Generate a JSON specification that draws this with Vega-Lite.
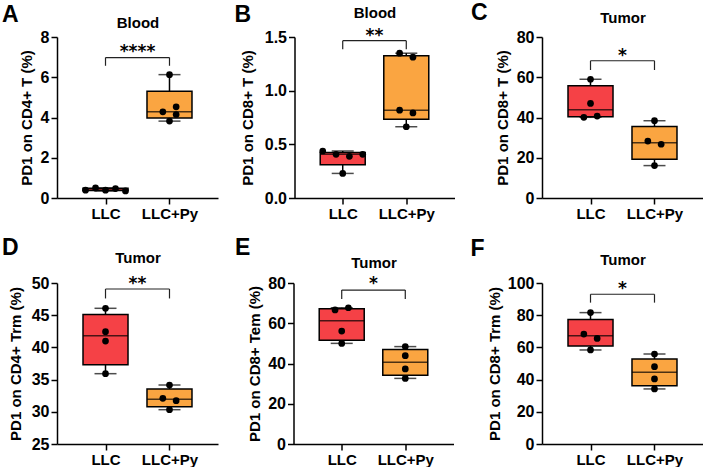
{
  "$schema": "https://vega.github.io/schema/vega-lite/v6.json",
  "padding": {"left": 2, "top": 2, "right": 0, "bottom": 0},
  "background": "white",
  "spacing": 16,
  "config": {
    "font": "Liberation Sans",
    "view": {"stroke": null},
    "axis": {
      "grid": false,
      "domainColor": "black", "domainWidth": 1.5,
      "tickColor": "black", "tickWidth": 1.5, "tickSize": 6,
      "labelColor": "black", "labelFont": "Liberation Sans", "labelFontWeight": "bold", "labelFontSize": 16, "labelPadding": 2, "labelOverlap": false,
      "titleColor": "black", "titleFont": "Liberation Sans", "titleFontWeight": "bold", "titleFontSize": 15
    },
    "title": {"font": "Liberation Sans", "fontWeight": "bold", "fontSize": 23, "color": "black", "anchor": "start", "frame": "bounds", "offset": 0}
  },
  "datasets": {
    "pts": [
      {"p": "A", "group": "LLC", "g": 1, "lane": -6, "v": 0.39},
      {"p": "A", "group": "LLC", "g": 1, "lane": -3, "v": 0.5},
      {"p": "A", "group": "LLC", "g": 1, "lane": 0, "v": 0.39},
      {"p": "A", "group": "LLC", "g": 1, "lane": 3, "v": 0.47},
      {"p": "A", "group": "LLC", "g": 1, "lane": 6, "v": 0.35},
      {"p": "A", "group": "LLC+Py", "g": 2, "lane": 0, "v": 6.13},
      {"p": "A", "group": "LLC+Py", "g": 2, "lane": 2, "v": 4.53},
      {"p": "A", "group": "LLC+Py", "g": 2, "lane": -2, "v": 4.28},
      {"p": "A", "group": "LLC+Py", "g": 2, "lane": 2, "v": 4.15},
      {"p": "A", "group": "LLC+Py", "g": 2, "lane": 0, "v": 3.82},
      {"p": "B", "group": "LLC", "g": 1, "lane": -6, "v": 0.438},
      {"p": "B", "group": "LLC", "g": 1, "lane": -2, "v": 0.407},
      {"p": "B", "group": "LLC", "g": 1, "lane": 2, "v": 0.388},
      {"p": "B", "group": "LLC", "g": 1, "lane": 6, "v": 0.407},
      {"p": "B", "group": "LLC", "g": 1, "lane": 0, "v": 0.229},
      {"p": "B", "group": "LLC+Py", "g": 2, "lane": -2, "v": 1.349},
      {"p": "B", "group": "LLC+Py", "g": 2, "lane": 2, "v": 1.312},
      {"p": "B", "group": "LLC+Py", "g": 2, "lane": -2, "v": 0.818},
      {"p": "B", "group": "LLC+Py", "g": 2, "lane": 2, "v": 0.793},
      {"p": "B", "group": "LLC+Py", "g": 2, "lane": 0, "v": 0.664},
      {"p": "C", "group": "LLC", "g": 1, "lane": 0, "v": 59.0},
      {"p": "C", "group": "LLC", "g": 1, "lane": 0, "v": 47.0},
      {"p": "C", "group": "LLC", "g": 1, "lane": -2, "v": 40.1},
      {"p": "C", "group": "LLC", "g": 1, "lane": 2, "v": 40.7},
      {"p": "C", "group": "LLC+Py", "g": 2, "lane": 0, "v": 38.4},
      {"p": "C", "group": "LLC+Py", "g": 2, "lane": -2, "v": 28.3},
      {"p": "C", "group": "LLC+Py", "g": 2, "lane": 2, "v": 26.7},
      {"p": "C", "group": "LLC+Py", "g": 2, "lane": 0, "v": 16.1},
      {"p": "D", "group": "LLC", "g": 1, "lane": 0, "v": 46.07},
      {"p": "D", "group": "LLC", "g": 1, "lane": 0, "v": 42.44},
      {"p": "D", "group": "LLC", "g": 1, "lane": 0, "v": 40.99},
      {"p": "D", "group": "LLC", "g": 1, "lane": 0, "v": 35.92},
      {"p": "D", "group": "LLC+Py", "g": 2, "lane": 0, "v": 34.16},
      {"p": "D", "group": "LLC+Py", "g": 2, "lane": -2, "v": 32.09},
      {"p": "D", "group": "LLC+Py", "g": 2, "lane": 2, "v": 31.73},
      {"p": "D", "group": "LLC+Py", "g": 2, "lane": 0, "v": 30.33},
      {"p": "E", "group": "LLC", "g": 1, "lane": -2, "v": 66.6},
      {"p": "E", "group": "LLC", "g": 1, "lane": 2, "v": 67.7},
      {"p": "E", "group": "LLC", "g": 1, "lane": 0, "v": 56.1},
      {"p": "E", "group": "LLC", "g": 1, "lane": 0, "v": 50.0},
      {"p": "E", "group": "LLC+Py", "g": 2, "lane": 0, "v": 48.4},
      {"p": "E", "group": "LLC+Py", "g": 2, "lane": 0, "v": 43.9},
      {"p": "E", "group": "LLC+Py", "g": 2, "lane": 0, "v": 37.3},
      {"p": "E", "group": "LLC+Py", "g": 2, "lane": 0, "v": 32.6},
      {"p": "F", "group": "LLC", "g": 1, "lane": 0, "v": 81.6},
      {"p": "F", "group": "LLC", "g": 1, "lane": -2, "v": 68.3},
      {"p": "F", "group": "LLC", "g": 1, "lane": 2, "v": 65.6},
      {"p": "F", "group": "LLC", "g": 1, "lane": 0, "v": 58.4},
      {"p": "F", "group": "LLC+Py", "g": 2, "lane": 0, "v": 55.9},
      {"p": "F", "group": "LLC+Py", "g": 2, "lane": 0, "v": 48.0},
      {"p": "F", "group": "LLC+Py", "g": 2, "lane": 0, "v": 40.4},
      {"p": "F", "group": "LLC+Py", "g": 2, "lane": 0, "v": 34.2}
    ],
    "box": [
      {"p": "A", "group": "LLC", "g": 1, "lo": 0.35, "q1": 0.37, "med": 0.39, "q3": 0.485, "hi": 0.5},
      {"p": "A", "group": "LLC+Py", "g": 2, "lo": 3.82, "q1": 3.98, "med": 4.28, "q3": 5.3, "hi": 6.13},
      {"p": "B", "group": "LLC", "g": 1, "lo": 0.229, "q1": 0.31, "med": 0.407, "q3": 0.423, "hi": 0.438},
      {"p": "B", "group": "LLC+Py", "g": 2, "lo": 0.664, "q1": 0.733, "med": 0.818, "q3": 1.325, "hi": 1.349},
      {"p": "C", "group": "LLC", "g": 1, "lo": 40.1, "q1": 40.4, "med": 43.8, "q3": 55.8, "hi": 59.0},
      {"p": "C", "group": "LLC+Py", "g": 2, "lo": 16.1, "q1": 19.2, "med": 27.5, "q3": 35.5, "hi": 38.4},
      {"p": "D", "group": "LLC", "g": 1, "lo": 35.92, "q1": 37.3, "med": 41.8, "q3": 45.1, "hi": 46.07},
      {"p": "D", "group": "LLC+Py", "g": 2, "lo": 30.33, "q1": 30.8, "med": 31.93, "q3": 33.55, "hi": 34.16},
      {"p": "E", "group": "LLC", "g": 1, "lo": 50.0, "q1": 51.6, "med": 61.3, "q3": 67.2, "hi": 67.7},
      {"p": "E", "group": "LLC+Py", "g": 2, "lo": 32.6, "q1": 34.1, "med": 40.6, "q3": 46.9, "hi": 48.4},
      {"p": "F", "group": "LLC", "g": 1, "lo": 58.4, "q1": 60.9, "med": 67.3, "q3": 77.4, "hi": 81.6},
      {"p": "F", "group": "LLC+Py", "g": 2, "lo": 34.2, "q1": 36.2, "med": 44.5, "q3": 52.8, "hi": 55.9}
    ],
    "brk": [
      {"p": "A", "from": 1, "to": 2, "top": 6.98, "foot": 6.57, "star": 7.57, "label": "****"},
      {"p": "B", "from": 1, "to": 2, "top": 1.466, "foot": 1.386, "star": 1.565, "label": "**"},
      {"p": "C", "from": 1, "to": 2, "top": 68.2, "foot": 63.6, "star": 73.5, "label": "*"},
      {"p": "D", "from": 1, "to": 2, "top": 49.07, "foot": 47.6, "star": 50.7, "label": "**"},
      {"p": "E", "from": 1, "to": 2, "top": 76.5, "foot": 72.0, "star": 82.3, "label": "*"},
      {"p": "F", "from": 1, "to": 2, "top": 93.0, "foot": 87.8, "star": 99.8, "label": "*"}
    ]
  },
  "vconcat": [
    {"hconcat": [
      {
        "title": {"text": "A", "dx": -17, "dy": 16},
        "width": 161, "height": 161,
        "resolve": {"axis": {"x": "independent", "y": "independent"}},
        "layer": [
          {"data": {"name": "box"}, "transform": [{"filter": "datum.p == 'A'"}],
           "mark": {"type": "rule", "strokeWidth": 1.5, "color": "black"},
           "encoding": {
             "x": {"field": "g", "type": "quantitative", "scale": {"domain": [0.32, 2.68], "nice": false},
                   "axis": {"orient": "top", "title": "Blood", "labels": false, "ticks": false, "domain": false, "titlePadding": 7, "minExtent": 0, "maxExtent": 0}},
             "y": {"field": "lo", "type": "quantitative", "scale": {"domain": [0, 8], "nice": false},
                   "axis": {"values": [0, 2, 4, 6, 8], "labelOverlap": false, "title": "PD1 on CD4+ T (%)", "minExtent": 17, "maxExtent": 17, "titlePadding": 6}},
             "y2": {"field": "hi"}}},
          {"data": {"name": "box"}, "transform": [{"filter": "datum.p == 'A'"}],
           "mark": {"type": "tick", "orient": "horizontal", "size": 22, "thickness": 1.5, "color": "black"},
           "encoding": {"x": {"field": "g", "type": "quantitative", "axis": null}, "y": {"field": "lo", "type": "quantitative", "axis": null}}},
          {"data": {"name": "box"}, "transform": [{"filter": "datum.p == 'A'"}],
           "mark": {"type": "tick", "orient": "horizontal", "size": 22, "thickness": 1.5, "color": "black"},
           "encoding": {"x": {"field": "g", "type": "quantitative", "axis": null}, "y": {"field": "hi", "type": "quantitative", "axis": null}}},
          {"data": {"name": "box"}, "transform": [{"filter": "datum.p == 'A'"}],
           "mark": {"type": "bar", "width": 45, "stroke": "black", "strokeWidth": 1.5},
           "encoding": {
             "x": {"field": "g", "type": "quantitative", "axis": {"values": [1, 2], "labelExpr": "datum.value == 1 ? 'LLC' : 'LLC+Py'", "title": null, "labelFontSize": 15}},
             "y": {"field": "q1", "type": "quantitative", "axis": null}, "y2": {"field": "q3"},
             "fill": {"field": "group", "type": "nominal", "scale": {"domain": ["LLC", "LLC+Py"], "range": ["#F54146", "#FAA541"]}, "legend": null}}},
          {"data": {"name": "box"}, "transform": [{"filter": "datum.p == 'A'"}],
           "mark": {"type": "tick", "orient": "horizontal", "size": 45, "thickness": 1.5, "color": "black"},
           "encoding": {"x": {"field": "g", "type": "quantitative", "axis": null}, "y": {"field": "med", "type": "quantitative", "axis": null}}},
          {"data": {"name": "pts"}, "transform": [{"filter": "datum.p == 'A'"}],
           "mark": {"type": "circle", "size": 45, "color": "black", "opacity": 1, "xOffset": {"expr": "datum.lane * 3.33"}},
           "encoding": {"x": {"field": "g", "type": "quantitative", "axis": null}, "y": {"field": "v", "type": "quantitative", "axis": null}}},
          {"data": {"name": "brk"}, "transform": [{"filter": "datum.p == 'A'"}],
           "mark": {"type": "rule", "strokeWidth": 1.2, "color": "#222"},
           "encoding": {"x": {"field": "from", "type": "quantitative", "axis": null}, "x2": {"field": "to"}, "y": {"field": "top", "type": "quantitative", "axis": null}}},
          {"data": {"name": "brk"}, "transform": [{"filter": "datum.p == 'A'"}],
           "mark": {"type": "rule", "strokeWidth": 1.2, "color": "#222"},
           "encoding": {"x": {"field": "from", "type": "quantitative", "axis": null}, "y": {"field": "foot", "type": "quantitative", "axis": null}, "y2": {"field": "top"}}},
          {"data": {"name": "brk"}, "transform": [{"filter": "datum.p == 'A'"}],
           "mark": {"type": "rule", "strokeWidth": 1.2, "color": "#222"},
           "encoding": {"x": {"field": "to", "type": "quantitative", "axis": null}, "y": {"field": "foot", "type": "quantitative", "axis": null}, "y2": {"field": "top"}}},
          {"data": {"name": "brk"}, "transform": [{"filter": "datum.p == 'A'"}, {"calculate": "(datum.from + datum.to) / 2", "as": "mid"}],
           "mark": {"type": "text", "font": "DejaVu Sans", "fontWeight": "bold", "fontSize": 17, "baseline": "middle", "dy": 6, "color": "black"},
           "encoding": {"x": {"field": "mid", "type": "quantitative", "axis": null}, "y": {"field": "star", "type": "quantitative", "axis": null}, "text": {"field": "label"}}}
        ]
      },
      {
        "title": {"text": "B", "dx": -6, "dy": 26},
        "width": 160, "height": 161,
        "resolve": {"axis": {"x": "independent", "y": "independent"}},
        "layer": [
          {"data": {"name": "box"}, "transform": [{"filter": "datum.p == 'B'"}],
           "mark": {"type": "rule", "strokeWidth": 1.5, "color": "black"},
           "encoding": {
             "x": {"field": "g", "type": "quantitative", "scale": {"domain": [0.32, 2.68], "nice": false},
                   "axis": {"orient": "top", "title": "Blood", "labels": false, "ticks": false, "domain": false, "titlePadding": 17, "minExtent": 0, "maxExtent": 0}},
             "y": {"field": "lo", "type": "quantitative", "scale": {"domain": [0, 1.5], "nice": false},
                   "axis": {"values": [0, 0.5, 1, 1.5], "labelOverlap": false, "format": ".1f", "title": "PD1 on CD8+ T (%)", "minExtent": 30, "maxExtent": 30, "titlePadding": 9}},
             "y2": {"field": "hi"}}},
          {"data": {"name": "box"}, "transform": [{"filter": "datum.p == 'B'"}],
           "mark": {"type": "tick", "orient": "horizontal", "size": 22, "thickness": 1.5, "color": "black"},
           "encoding": {"x": {"field": "g", "type": "quantitative", "axis": null}, "y": {"field": "lo", "type": "quantitative", "axis": null}}},
          {"data": {"name": "box"}, "transform": [{"filter": "datum.p == 'B'"}],
           "mark": {"type": "tick", "orient": "horizontal", "size": 22, "thickness": 1.5, "color": "black"},
           "encoding": {"x": {"field": "g", "type": "quantitative", "axis": null}, "y": {"field": "hi", "type": "quantitative", "axis": null}}},
          {"data": {"name": "box"}, "transform": [{"filter": "datum.p == 'B'"}],
           "mark": {"type": "bar", "width": 45, "stroke": "black", "strokeWidth": 1.5},
           "encoding": {
             "x": {"field": "g", "type": "quantitative", "axis": {"values": [1, 2], "labelExpr": "datum.value == 1 ? 'LLC' : 'LLC+Py'", "title": null, "labelFontSize": 15}},
             "y": {"field": "q1", "type": "quantitative", "axis": null}, "y2": {"field": "q3"},
             "fill": {"field": "group", "type": "nominal", "scale": {"domain": ["LLC", "LLC+Py"], "range": ["#F54146", "#FAA541"]}, "legend": null}}},
          {"data": {"name": "box"}, "transform": [{"filter": "datum.p == 'B'"}],
           "mark": {"type": "tick", "orient": "horizontal", "size": 45, "thickness": 1.5, "color": "black"},
           "encoding": {"x": {"field": "g", "type": "quantitative", "axis": null}, "y": {"field": "med", "type": "quantitative", "axis": null}}},
          {"data": {"name": "pts"}, "transform": [{"filter": "datum.p == 'B'"}],
           "mark": {"type": "circle", "size": 45, "color": "black", "opacity": 1, "xOffset": {"expr": "datum.lane * 3.33"}},
           "encoding": {"x": {"field": "g", "type": "quantitative", "axis": null}, "y": {"field": "v", "type": "quantitative", "axis": null}}},
          {"data": {"name": "brk"}, "transform": [{"filter": "datum.p == 'B'"}],
           "mark": {"type": "rule", "strokeWidth": 1.2, "color": "#222"},
           "encoding": {"x": {"field": "from", "type": "quantitative", "axis": null}, "x2": {"field": "to"}, "y": {"field": "top", "type": "quantitative", "axis": null}}},
          {"data": {"name": "brk"}, "transform": [{"filter": "datum.p == 'B'"}],
           "mark": {"type": "rule", "strokeWidth": 1.2, "color": "#222"},
           "encoding": {"x": {"field": "from", "type": "quantitative", "axis": null}, "y": {"field": "foot", "type": "quantitative", "axis": null}, "y2": {"field": "top"}}},
          {"data": {"name": "brk"}, "transform": [{"filter": "datum.p == 'B'"}],
           "mark": {"type": "rule", "strokeWidth": 1.2, "color": "#222"},
           "encoding": {"x": {"field": "to", "type": "quantitative", "axis": null}, "y": {"field": "foot", "type": "quantitative", "axis": null}, "y2": {"field": "top"}}},
          {"data": {"name": "brk"}, "transform": [{"filter": "datum.p == 'B'"}, {"calculate": "(datum.from + datum.to) / 2", "as": "mid"}],
           "mark": {"type": "text", "font": "DejaVu Sans", "fontWeight": "bold", "fontSize": 17, "baseline": "middle", "dy": 6, "color": "black"},
           "encoding": {"x": {"field": "mid", "type": "quantitative", "axis": null}, "y": {"field": "star", "type": "quantitative", "axis": null}, "text": {"field": "label"}}}
        ]
      },
      {
        "title": {"text": "C", "dx": -24, "dy": 19},
        "width": 161, "height": 161,
        "resolve": {"axis": {"x": "independent", "y": "independent"}},
        "layer": [
          {"data": {"name": "box"}, "transform": [{"filter": "datum.p == 'C'"}],
           "mark": {"type": "rule", "strokeWidth": 1.5, "color": "black"},
           "encoding": {
             "x": {"field": "g", "type": "quantitative", "scale": {"domain": [0.32, 2.68], "nice": false},
                   "axis": {"orient": "top", "title": "Tumor", "labels": false, "ticks": false, "domain": false, "titlePadding": 12, "minExtent": 0, "maxExtent": 0}},
             "y": {"field": "lo", "type": "quantitative", "scale": {"domain": [0, 80], "nice": false},
                   "axis": {"values": [0, 20, 40, 60, 80], "labelOverlap": false, "title": "PD1 on CD8+ T (%)", "minExtent": 25, "maxExtent": 25, "titlePadding": 7}},
             "y2": {"field": "hi"}}},
          {"data": {"name": "box"}, "transform": [{"filter": "datum.p == 'C'"}],
           "mark": {"type": "tick", "orient": "horizontal", "size": 22, "thickness": 1.5, "color": "black"},
           "encoding": {"x": {"field": "g", "type": "quantitative", "axis": null}, "y": {"field": "lo", "type": "quantitative", "axis": null}}},
          {"data": {"name": "box"}, "transform": [{"filter": "datum.p == 'C'"}],
           "mark": {"type": "tick", "orient": "horizontal", "size": 22, "thickness": 1.5, "color": "black"},
           "encoding": {"x": {"field": "g", "type": "quantitative", "axis": null}, "y": {"field": "hi", "type": "quantitative", "axis": null}}},
          {"data": {"name": "box"}, "transform": [{"filter": "datum.p == 'C'"}],
           "mark": {"type": "bar", "width": 45, "stroke": "black", "strokeWidth": 1.5},
           "encoding": {
             "x": {"field": "g", "type": "quantitative", "axis": {"values": [1, 2], "labelExpr": "datum.value == 1 ? 'LLC' : 'LLC+Py'", "title": null, "labelFontSize": 15}},
             "y": {"field": "q1", "type": "quantitative", "axis": null}, "y2": {"field": "q3"},
             "fill": {"field": "group", "type": "nominal", "scale": {"domain": ["LLC", "LLC+Py"], "range": ["#F54146", "#FAA541"]}, "legend": null}}},
          {"data": {"name": "box"}, "transform": [{"filter": "datum.p == 'C'"}],
           "mark": {"type": "tick", "orient": "horizontal", "size": 45, "thickness": 1.5, "color": "black"},
           "encoding": {"x": {"field": "g", "type": "quantitative", "axis": null}, "y": {"field": "med", "type": "quantitative", "axis": null}}},
          {"data": {"name": "pts"}, "transform": [{"filter": "datum.p == 'C'"}],
           "mark": {"type": "circle", "size": 45, "color": "black", "opacity": 1, "xOffset": {"expr": "datum.lane * 3.33"}},
           "encoding": {"x": {"field": "g", "type": "quantitative", "axis": null}, "y": {"field": "v", "type": "quantitative", "axis": null}}},
          {"data": {"name": "brk"}, "transform": [{"filter": "datum.p == 'C'"}],
           "mark": {"type": "rule", "strokeWidth": 1.2, "color": "#222"},
           "encoding": {"x": {"field": "from", "type": "quantitative", "axis": null}, "x2": {"field": "to"}, "y": {"field": "top", "type": "quantitative", "axis": null}}},
          {"data": {"name": "brk"}, "transform": [{"filter": "datum.p == 'C'"}],
           "mark": {"type": "rule", "strokeWidth": 1.2, "color": "#222"},
           "encoding": {"x": {"field": "from", "type": "quantitative", "axis": null}, "y": {"field": "foot", "type": "quantitative", "axis": null}, "y2": {"field": "top"}}},
          {"data": {"name": "brk"}, "transform": [{"filter": "datum.p == 'C'"}],
           "mark": {"type": "rule", "strokeWidth": 1.2, "color": "#222"},
           "encoding": {"x": {"field": "to", "type": "quantitative", "axis": null}, "y": {"field": "foot", "type": "quantitative", "axis": null}, "y2": {"field": "top"}}},
          {"data": {"name": "brk"}, "transform": [{"filter": "datum.p == 'C'"}, {"calculate": "(datum.from + datum.to) / 2", "as": "mid"}],
           "mark": {"type": "text", "font": "DejaVu Sans", "fontWeight": "bold", "fontSize": 17, "baseline": "middle", "dy": 6, "color": "black"},
           "encoding": {"x": {"field": "mid", "type": "quantitative", "axis": null}, "y": {"field": "star", "type": "quantitative", "axis": null}, "text": {"field": "label"}}}
        ]
      }
    ], "spacing": 16.5},
    {"hconcat": [
      {
        "title": {"text": "D", "dx": -6, "dy": 14},
        "width": 161, "height": 161,
        "resolve": {"axis": {"x": "independent", "y": "independent"}},
        "layer": [
          {"data": {"name": "box"}, "transform": [{"filter": "datum.p == 'D'"}],
           "mark": {"type": "rule", "strokeWidth": 1.5, "color": "black"},
           "encoding": {
             "x": {"field": "g", "type": "quantitative", "scale": {"domain": [0.32, 2.68], "nice": false},
                   "axis": {"orient": "top", "title": "Tumor", "labels": false, "ticks": false, "domain": false, "titlePadding": 18, "minExtent": 0, "maxExtent": 0}},
             "y": {"field": "lo", "type": "quantitative", "scale": {"domain": [25, 50], "nice": false, "zero": false},
                   "axis": {"values": [25, 30, 35, 40, 45, 50], "labelOverlap": false, "title": "PD1 on CD4+ Trm (%)", "minExtent": 26, "maxExtent": 26, "titlePadding": 8}},
             "y2": {"field": "hi"}}},
          {"data": {"name": "box"}, "transform": [{"filter": "datum.p == 'D'"}],
           "mark": {"type": "tick", "orient": "horizontal", "size": 22, "thickness": 1.5, "color": "black"},
           "encoding": {"x": {"field": "g", "type": "quantitative", "axis": null}, "y": {"field": "lo", "type": "quantitative", "axis": null}}},
          {"data": {"name": "box"}, "transform": [{"filter": "datum.p == 'D'"}],
           "mark": {"type": "tick", "orient": "horizontal", "size": 22, "thickness": 1.5, "color": "black"},
           "encoding": {"x": {"field": "g", "type": "quantitative", "axis": null}, "y": {"field": "hi", "type": "quantitative", "axis": null}}},
          {"data": {"name": "box"}, "transform": [{"filter": "datum.p == 'D'"}],
           "mark": {"type": "bar", "width": 45, "stroke": "black", "strokeWidth": 1.5},
           "encoding": {
             "x": {"field": "g", "type": "quantitative", "axis": {"values": [1, 2], "labelExpr": "datum.value == 1 ? 'LLC' : 'LLC+Py'", "title": null, "labelFontSize": 15}},
             "y": {"field": "q1", "type": "quantitative", "axis": null}, "y2": {"field": "q3"},
             "fill": {"field": "group", "type": "nominal", "scale": {"domain": ["LLC", "LLC+Py"], "range": ["#F54146", "#FAA541"]}, "legend": null}}},
          {"data": {"name": "box"}, "transform": [{"filter": "datum.p == 'D'"}],
           "mark": {"type": "tick", "orient": "horizontal", "size": 45, "thickness": 1.5, "color": "black"},
           "encoding": {"x": {"field": "g", "type": "quantitative", "axis": null}, "y": {"field": "med", "type": "quantitative", "axis": null}}},
          {"data": {"name": "pts"}, "transform": [{"filter": "datum.p == 'D'"}],
           "mark": {"type": "circle", "size": 45, "color": "black", "opacity": 1, "xOffset": {"expr": "datum.lane * 3.33"}},
           "encoding": {"x": {"field": "g", "type": "quantitative", "axis": null}, "y": {"field": "v", "type": "quantitative", "axis": null}}},
          {"data": {"name": "brk"}, "transform": [{"filter": "datum.p == 'D'"}],
           "mark": {"type": "rule", "strokeWidth": 1.2, "color": "#222"},
           "encoding": {"x": {"field": "from", "type": "quantitative", "axis": null}, "x2": {"field": "to"}, "y": {"field": "top", "type": "quantitative", "axis": null}}},
          {"data": {"name": "brk"}, "transform": [{"filter": "datum.p == 'D'"}],
           "mark": {"type": "rule", "strokeWidth": 1.2, "color": "#222"},
           "encoding": {"x": {"field": "from", "type": "quantitative", "axis": null}, "y": {"field": "foot", "type": "quantitative", "axis": null}, "y2": {"field": "top"}}},
          {"data": {"name": "brk"}, "transform": [{"filter": "datum.p == 'D'"}],
           "mark": {"type": "rule", "strokeWidth": 1.2, "color": "#222"},
           "encoding": {"x": {"field": "to", "type": "quantitative", "axis": null}, "y": {"field": "foot", "type": "quantitative", "axis": null}, "y2": {"field": "top"}}},
          {"data": {"name": "brk"}, "transform": [{"filter": "datum.p == 'D'"}, {"calculate": "(datum.from + datum.to) / 2", "as": "mid"}],
           "mark": {"type": "text", "font": "DejaVu Sans", "fontWeight": "bold", "fontSize": 17, "baseline": "middle", "dy": 6, "color": "black"},
           "encoding": {"x": {"field": "mid", "type": "quantitative", "axis": null}, "y": {"field": "star", "type": "quantitative", "axis": null}, "text": {"field": "label"}}}
        ]
      },
      {
        "title": {"text": "E", "dx": -12.5, "dy": 9},
        "width": 160, "height": 161,
        "resolve": {"axis": {"x": "independent", "y": "independent"}},
        "layer": [
          {"data": {"name": "box"}, "transform": [{"filter": "datum.p == 'E'"}],
           "mark": {"type": "rule", "strokeWidth": 1.5, "color": "black"},
           "encoding": {
             "x": {"field": "g", "type": "quantitative", "scale": {"domain": [0.32, 2.68], "nice": false},
                   "axis": {"orient": "top", "title": "Tumor", "labels": false, "ticks": false, "domain": false, "titlePadding": 13, "minExtent": 0, "maxExtent": 0}},
             "y": {"field": "lo", "type": "quantitative", "scale": {"domain": [0, 80], "nice": false},
                   "axis": {"values": [0, 20, 40, 60, 80], "labelOverlap": false, "title": "PD1 on CD8+ Tem (%)", "minExtent": 26, "maxExtent": 26, "titlePadding": 5}},
             "y2": {"field": "hi"}}},
          {"data": {"name": "box"}, "transform": [{"filter": "datum.p == 'E'"}],
           "mark": {"type": "tick", "orient": "horizontal", "size": 22, "thickness": 1.5, "color": "black"},
           "encoding": {"x": {"field": "g", "type": "quantitative", "axis": null}, "y": {"field": "lo", "type": "quantitative", "axis": null}}},
          {"data": {"name": "box"}, "transform": [{"filter": "datum.p == 'E'"}],
           "mark": {"type": "tick", "orient": "horizontal", "size": 22, "thickness": 1.5, "color": "black"},
           "encoding": {"x": {"field": "g", "type": "quantitative", "axis": null}, "y": {"field": "hi", "type": "quantitative", "axis": null}}},
          {"data": {"name": "box"}, "transform": [{"filter": "datum.p == 'E'"}],
           "mark": {"type": "bar", "width": 45, "stroke": "black", "strokeWidth": 1.5},
           "encoding": {
             "x": {"field": "g", "type": "quantitative", "axis": {"values": [1, 2], "labelExpr": "datum.value == 1 ? 'LLC' : 'LLC+Py'", "title": null, "labelFontSize": 15}},
             "y": {"field": "q1", "type": "quantitative", "axis": null}, "y2": {"field": "q3"},
             "fill": {"field": "group", "type": "nominal", "scale": {"domain": ["LLC", "LLC+Py"], "range": ["#F54146", "#FAA541"]}, "legend": null}}},
          {"data": {"name": "box"}, "transform": [{"filter": "datum.p == 'E'"}],
           "mark": {"type": "tick", "orient": "horizontal", "size": 45, "thickness": 1.5, "color": "black"},
           "encoding": {"x": {"field": "g", "type": "quantitative", "axis": null}, "y": {"field": "med", "type": "quantitative", "axis": null}}},
          {"data": {"name": "pts"}, "transform": [{"filter": "datum.p == 'E'"}],
           "mark": {"type": "circle", "size": 45, "color": "black", "opacity": 1, "xOffset": {"expr": "datum.lane * 3.33"}},
           "encoding": {"x": {"field": "g", "type": "quantitative", "axis": null}, "y": {"field": "v", "type": "quantitative", "axis": null}}},
          {"data": {"name": "brk"}, "transform": [{"filter": "datum.p == 'E'"}],
           "mark": {"type": "rule", "strokeWidth": 1.2, "color": "#222"},
           "encoding": {"x": {"field": "from", "type": "quantitative", "axis": null}, "x2": {"field": "to"}, "y": {"field": "top", "type": "quantitative", "axis": null}}},
          {"data": {"name": "brk"}, "transform": [{"filter": "datum.p == 'E'"}],
           "mark": {"type": "rule", "strokeWidth": 1.2, "color": "#222"},
           "encoding": {"x": {"field": "from", "type": "quantitative", "axis": null}, "y": {"field": "foot", "type": "quantitative", "axis": null}, "y2": {"field": "top"}}},
          {"data": {"name": "brk"}, "transform": [{"filter": "datum.p == 'E'"}],
           "mark": {"type": "rule", "strokeWidth": 1.2, "color": "#222"},
           "encoding": {"x": {"field": "to", "type": "quantitative", "axis": null}, "y": {"field": "foot", "type": "quantitative", "axis": null}, "y2": {"field": "top"}}},
          {"data": {"name": "brk"}, "transform": [{"filter": "datum.p == 'E'"}, {"calculate": "(datum.from + datum.to) / 2", "as": "mid"}],
           "mark": {"type": "text", "font": "DejaVu Sans", "fontWeight": "bold", "fontSize": 17, "baseline": "middle", "dy": 6, "color": "black"},
           "encoding": {"x": {"field": "mid", "type": "quantitative", "axis": null}, "y": {"field": "star", "type": "quantitative", "axis": null}, "text": {"field": "label"}}}
        ]
      },
      {
        "title": {"text": "F", "dx": -16.5, "dy": 13},
        "width": 161, "height": 161,
        "resolve": {"axis": {"x": "independent", "y": "independent"}},
        "layer": [
          {"data": {"name": "box"}, "transform": [{"filter": "datum.p == 'F'"}],
           "mark": {"type": "rule", "strokeWidth": 1.5, "color": "black"},
           "encoding": {
             "x": {"field": "g", "type": "quantitative", "scale": {"domain": [0.32, 2.68], "nice": false},
                   "axis": {"orient": "top", "title": "Tumor", "labels": false, "ticks": false, "domain": false, "titlePadding": 16, "minExtent": 0, "maxExtent": 0}},
             "y": {"field": "lo", "type": "quantitative", "scale": {"domain": [0, 100], "nice": false},
                   "axis": {"values": [0, 20, 40, 60, 80, 100], "labelOverlap": false, "title": "PD1 on CD8+ Trm (%)", "minExtent": 33, "maxExtent": 33, "titlePadding": 7}},
             "y2": {"field": "hi"}}},
          {"data": {"name": "box"}, "transform": [{"filter": "datum.p == 'F'"}],
           "mark": {"type": "tick", "orient": "horizontal", "size": 22, "thickness": 1.5, "color": "black"},
           "encoding": {"x": {"field": "g", "type": "quantitative", "axis": null}, "y": {"field": "lo", "type": "quantitative", "axis": null}}},
          {"data": {"name": "box"}, "transform": [{"filter": "datum.p == 'F'"}],
           "mark": {"type": "tick", "orient": "horizontal", "size": 22, "thickness": 1.5, "color": "black"},
           "encoding": {"x": {"field": "g", "type": "quantitative", "axis": null}, "y": {"field": "hi", "type": "quantitative", "axis": null}}},
          {"data": {"name": "box"}, "transform": [{"filter": "datum.p == 'F'"}],
           "mark": {"type": "bar", "width": 45, "stroke": "black", "strokeWidth": 1.5},
           "encoding": {
             "x": {"field": "g", "type": "quantitative", "axis": {"values": [1, 2], "labelExpr": "datum.value == 1 ? 'LLC' : 'LLC+Py'", "title": null, "labelFontSize": 15}},
             "y": {"field": "q1", "type": "quantitative", "axis": null}, "y2": {"field": "q3"},
             "fill": {"field": "group", "type": "nominal", "scale": {"domain": ["LLC", "LLC+Py"], "range": ["#F54146", "#FAA541"]}, "legend": null}}},
          {"data": {"name": "box"}, "transform": [{"filter": "datum.p == 'F'"}],
           "mark": {"type": "tick", "orient": "horizontal", "size": 45, "thickness": 1.5, "color": "black"},
           "encoding": {"x": {"field": "g", "type": "quantitative", "axis": null}, "y": {"field": "med", "type": "quantitative", "axis": null}}},
          {"data": {"name": "pts"}, "transform": [{"filter": "datum.p == 'F'"}],
           "mark": {"type": "circle", "size": 45, "color": "black", "opacity": 1, "xOffset": {"expr": "datum.lane * 3.33"}},
           "encoding": {"x": {"field": "g", "type": "quantitative", "axis": null}, "y": {"field": "v", "type": "quantitative", "axis": null}}},
          {"data": {"name": "brk"}, "transform": [{"filter": "datum.p == 'F'"}],
           "mark": {"type": "rule", "strokeWidth": 1.2, "color": "#222"},
           "encoding": {"x": {"field": "from", "type": "quantitative", "axis": null}, "x2": {"field": "to"}, "y": {"field": "top", "type": "quantitative", "axis": null}}},
          {"data": {"name": "brk"}, "transform": [{"filter": "datum.p == 'F'"}],
           "mark": {"type": "rule", "strokeWidth": 1.2, "color": "#222"},
           "encoding": {"x": {"field": "from", "type": "quantitative", "axis": null}, "y": {"field": "foot", "type": "quantitative", "axis": null}, "y2": {"field": "top"}}},
          {"data": {"name": "brk"}, "transform": [{"filter": "datum.p == 'F'"}],
           "mark": {"type": "rule", "strokeWidth": 1.2, "color": "#222"},
           "encoding": {"x": {"field": "to", "type": "quantitative", "axis": null}, "y": {"field": "foot", "type": "quantitative", "axis": null}, "y2": {"field": "top"}}},
          {"data": {"name": "brk"}, "transform": [{"filter": "datum.p == 'F'"}, {"calculate": "(datum.from + datum.to) / 2", "as": "mid"}],
           "mark": {"type": "text", "font": "DejaVu Sans", "fontWeight": "bold", "fontSize": 17, "baseline": "middle", "dy": 6, "color": "black"},
           "encoding": {"x": {"field": "mid", "type": "quantitative", "axis": null}, "y": {"field": "star", "type": "quantitative", "axis": null}, "text": {"field": "label"}}}
        ]
      }
    ], "spacing": 16.5}
  ]
}
